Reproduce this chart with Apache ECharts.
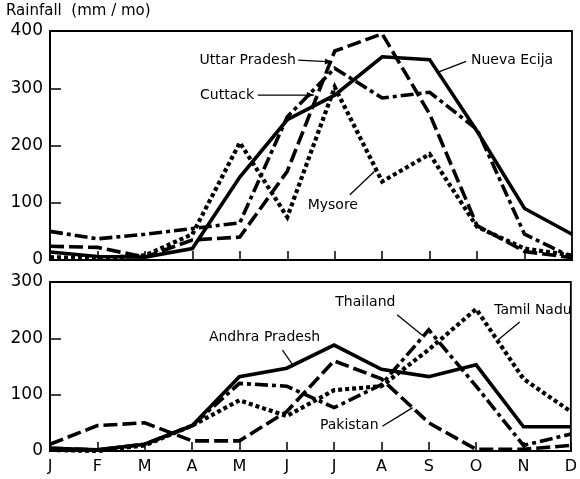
<!DOCTYPE html>
<html>
<head>
<meta charset="utf-8">
<script src="https://cdn.jsdelivr.net/npm/echarts@6/dist/echarts.min.js"></script>
<style>
html,body{margin:0;padding:0;background:#fff;}
#c{width:580px;height:479px;}
</style>
</head>
<body>
<div id="c"></div>
<script>
// ---- data ----
var months = ['J','F','M','A','M','J','J','A','S','O','N','D'];
var topTicks = [0, 100, 200, 300, 400];
var bottomTicks = [0, 100, 200, 300];
var yTitle = 'Rainfall  (mm / mo)';

// top panel
var uttarPradesh = [24, 22, 5, 35, 40, 155, 365, 395, 255, 60, 15, 4];
var cuttack      = [50, 37, 45, 55, 65, 250, 335, 283, 293, 228, 45, 5];
var nuevaEcija   = [14, 6, 5, 20, 145, 245, 288, 355, 350, 225, 90, 45];
var mysore       = [5, 3, 8, 45, 205, 75, 302, 137, 185, 58, 20, 8];

// bottom panel
var andhraPradesh = [5, 2, 12, 45, 132, 147, 188, 145, 132, 153, 43, 43];
var thailand      = [5, 2, 12, 45, 120, 115, 77, 118, 215, 115, 10, 30];
var pakistan      = [12, 45, 50, 18, 18, 70, 160, 128, 50, 3, 3, 10];
var tamilNadu     = [2, 0, 10, 45, 90, 62, 108, 115, 180, 252, 128, 70];

// annotation labels: [text, panel, textX, textY, align, lineFrom, lineTo, arrow]
var notes = [
  ['Uttar Pradesh', 0, 5.18, 349, 'right', [5.23, 349], [5.94, 346], true],
  ['Cuttack',       0, 4.30, 288, 'right', [4.38, 288], [5.56, 288], true],
  ['Nueva Ecija',   0, 8.87, 349, 'left',  [8.77, 347], [8.18, 328], false],
  ['Mysore',        0, 5.96, 96,  'center',[6.32, 114], [6.84, 155], false],
  ['Andhra Pradesh',1, 4.53, 201, 'center',[4.91, 179], [5.15, 150], false],
  ['Thailand',      1, 6.66, 264, 'center',[7.33, 242], [7.87, 205], false],
  ['Tamil Nadu',    1, 10.2, 250, 'center',[9.92, 229], [9.46, 197], false],
  ['Pakistan',      1, 6.32, 46,  'center',[7.02, 44],  [7.66, 77],  false]
];

// ---- chart ----
var FONT = 'DejaVu Sans';
var chart = echarts.init(document.getElementById('c'), null, {renderer: 'canvas'});

function pairs(arr) { return arr.map(function (v, i) { return [i, v]; }); }

var styles = {
  solid:   {type: 'solid', width: 3.6},
  dashed:  {type: [14, 5], width: 3.6},
  dashdot: {type: [13, 4, 4, 4], width: 3.6},
  dotted:  {type: [4, 3], width: 4.2}
};

function ser(name, arr, style, idx) {
  return {
    name: name, type: 'line', xAxisIndex: idx, yAxisIndex: idx,
    data: pairs(arr), showSymbol: false, symbol: 'none', clip: true,
    lineStyle: Object.assign({color: '#000', cap: 'butt', join: 'miter'}, styles[style]),
    animation: false, z: 3
  };
}

function xAx(idx, showLabel) {
  return {
    type: 'value', gridIndex: idx, min: 0, max: 11, interval: 1,
    axisLine: {show: true, lineStyle: {color: '#000', width: 1.8}},
    axisTick: {show: true, inside: true, length: 9, lineStyle: {color: '#000', width: 1.5}},
    splitLine: {show: false},
    axisLabel: {
      show: showLabel, color: '#000', fontFamily: FONT, fontSize: 16, margin: 8,
      formatter: function (v) { return months[Math.round(v)] || ''; }
    }
  };
}
function yAx(idx, ticks) {
  return {
    type: 'value', gridIndex: idx, min: ticks[0], max: ticks[ticks.length - 1], interval: 100,
    axisLine: {show: true, lineStyle: {color: '#000', width: 1.8}},
    axisTick: {show: true, inside: true, length: 11, lineStyle: {color: '#000', width: 1.5}},
    splitLine: {show: false},
    axisLabel: {color: '#000', fontFamily: FONT, fontSize: 17, margin: 7}
  };
}

var option = {
  animation: false,
  backgroundColor: '#fff',
  grid: [
    {left: 50, right: 8, top: 31, height: 229, show: true, borderColor: '#000', borderWidth: 1.8, backgroundColor: 'transparent'},
    {left: 50, right: 8, top: 282, height: 169, show: true, borderColor: '#000', borderWidth: 1.8, backgroundColor: 'transparent'}
  ],
  xAxis: [xAx(0, false), xAx(1, true)],
  yAxis: [yAx(0, topTicks), yAx(1, bottomTicks)],
  series: [
    ser('Mysore', mysore, 'dotted', 0),
    ser('Cuttack', cuttack, 'dashdot', 0),
    ser('Uttar Pradesh', uttarPradesh, 'dashed', 0),
    ser('Nueva Ecija', nuevaEcija, 'solid', 0),
    ser('Tamil Nadu', tamilNadu, 'dotted', 1),
    ser('Pakistan', pakistan, 'dashed', 1),
    ser('Thailand', thailand, 'dashdot', 1),
    ser('Andhra Pradesh', andhraPradesh, 'solid', 1)
  ]
};
chart.setOption(option);

// annotations positioned through the axes' own scales
var g = [{
  type: 'text', left: 6, top: 4, z: 10,
  style: {text: yTitle, fill: '#000', font: '15px "' + FONT + '"'}
}];
notes.forEach(function (n) {
  var p = chart.convertToPixel({gridIndex: n[1]}, [n[2], n[3]]);
  g.push({
    type: 'text', x: p[0], y: p[1], z: 10,
    style: {text: n[0], fill: '#000', font: '14px "' + FONT + '"', align: n[4], verticalAlign: 'middle'}
  });
  var a = chart.convertToPixel({gridIndex: n[1]}, n[5]);
  var b = chart.convertToPixel({gridIndex: n[1]}, n[6]);
  g.push({type: 'line', z: 10, shape: {x1: a[0], y1: a[1], x2: b[0], y2: b[1]},
          style: {stroke: '#000', lineWidth: 1.3}});
  if (n[7]) {
    var dx = b[0] - a[0], dy = b[1] - a[1], L = Math.sqrt(dx*dx + dy*dy);
    var ux = dx / L, uy = dy / L, len = 7, w = 3;
    g.push({type: 'polygon', z: 10, shape: {points: [
      [b[0], b[1]],
      [b[0] - ux*len - uy*w, b[1] - uy*len + ux*w],
      [b[0] - ux*len + uy*w, b[1] - uy*len - ux*w]
    ]}, style: {fill: '#000'}});
  }
});
chart.setOption({graphic: g});
</script>
</body>
</html>
